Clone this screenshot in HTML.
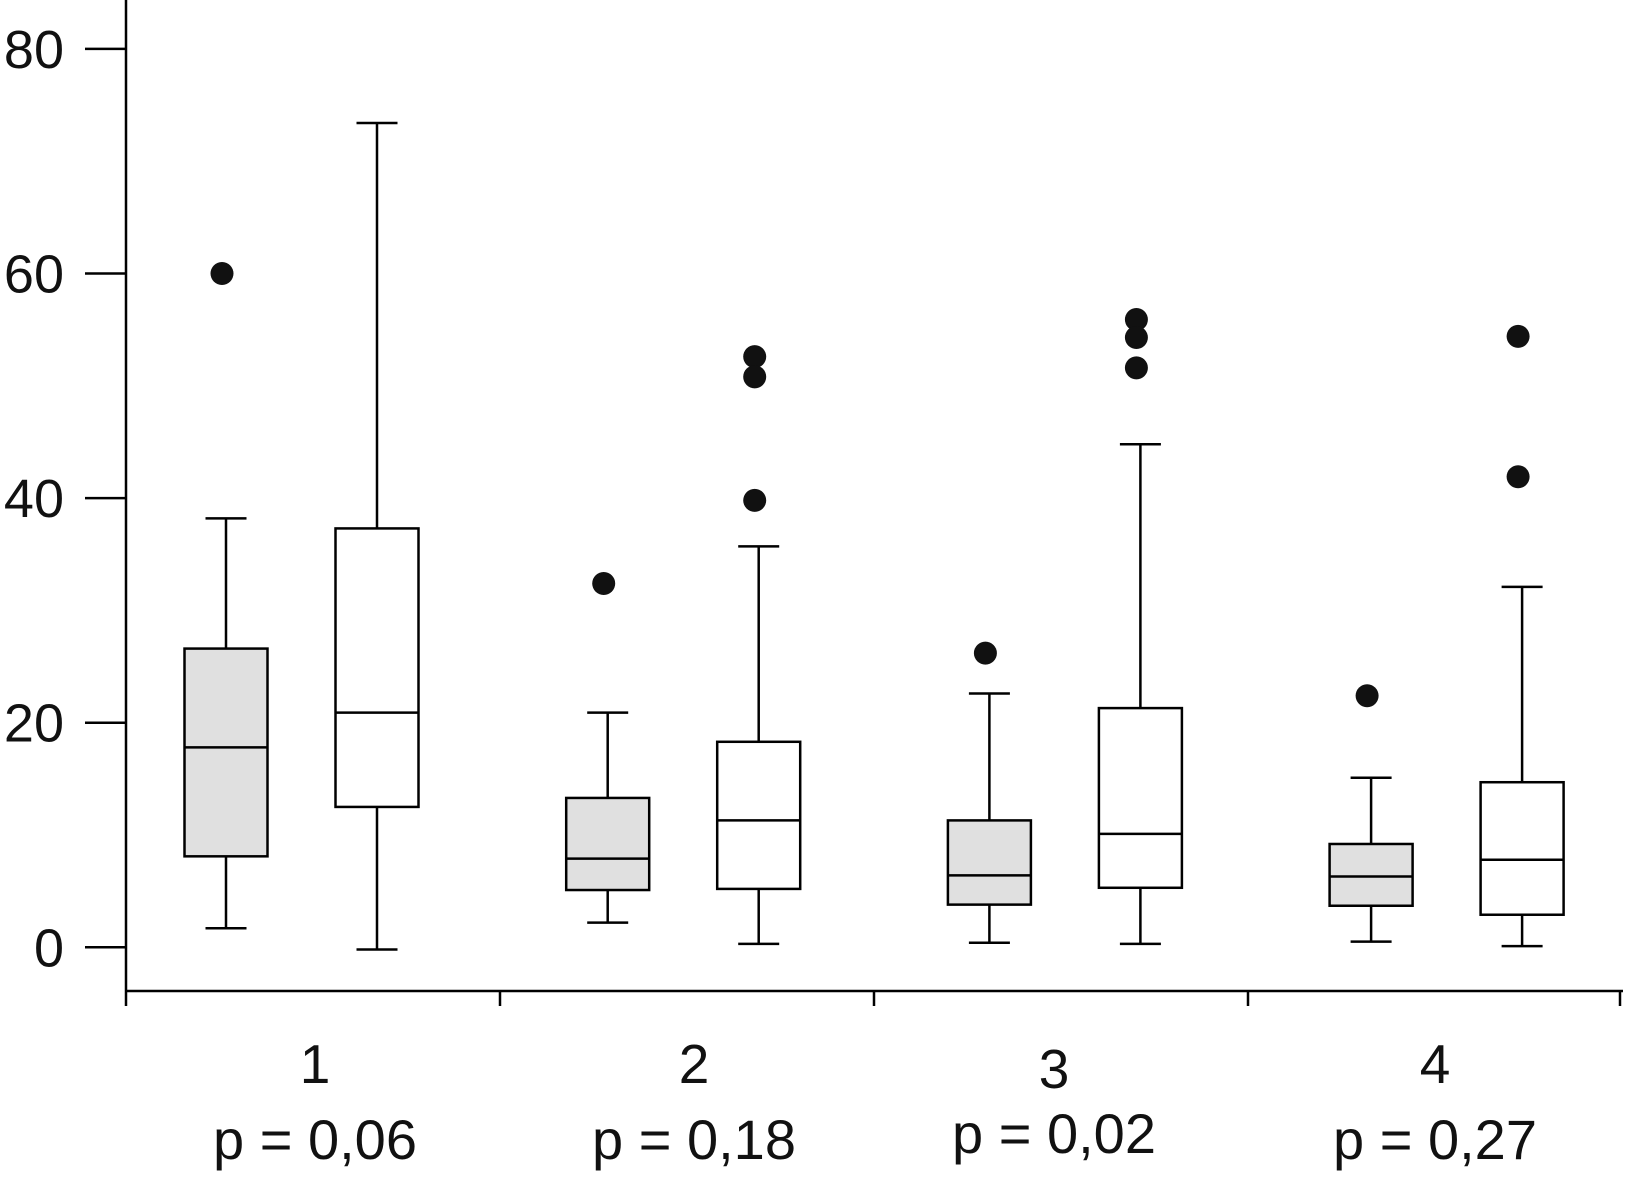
<!DOCTYPE html>
<html><head><meta charset="utf-8"><style>
html,body{margin:0;padding:0;background:#fff;}
svg{display:block;font-family:"Liberation Sans",sans-serif;}
</style></head><body>
<svg id="chart" width="1625" height="1178" viewBox="0 0 1625 1178" xmlns="http://www.w3.org/2000/svg"></svg>
<script>
const groupLabels = ["1","2","3","4"];
const pLabels = ["p = 0,06","p = 0,18","p = 0,02","p = 0,27"];
const yTicks = [0,20,40,60,80];
const boxLow    = [1.7, -0.2, 2.2, 0.3, 0.4, 0.3, 0.5, 0.1];
const boxQ1     = [8.1, 12.5, 5.1, 5.2, 3.8, 5.3, 3.7, 2.9];
const boxMedian = [17.8, 20.9, 7.9, 11.3, 6.4, 10.1, 6.3, 7.8];
const boxQ3     = [26.6, 37.3, 13.3, 18.3, 11.3, 21.3, 9.2, 14.7];
const boxHigh   = [38.2, 73.4, 20.9, 35.7, 22.6, 44.8, 15.1, 32.1];
const boxOutliers = [[60],[],[32.4],[52.6,50.8,39.8],[26.2],[55.9,54.3,51.6],[22.4],[54.4,41.9]];
const boxGroup = [0,0,1,1,2,2,3,3];
const boxFilled = [true,false,true,false,true,false,true,false];

const svg = document.getElementById('chart');
const NS = 'http://www.w3.org/2000/svg';
const y0px = 947.3, pxPerUnit = 224.6/20;
function yScale(v){ return y0px - v*pxPerUnit; }
const groupLeft = 126, groupWidth = 374;
function xBox(i){ const g = boxGroup[i]; const sub = boxFilled[i] ? 0 : 1; return 226 + g*381.7 + sub*151; }
function el(tag, attrs){ const e = document.createElementNS(NS, tag); for (const k in attrs) e.setAttribute(k, attrs[k]); svg.appendChild(e); return e; }

let a = el('line',{x1:126,y1:0,x2:126,y2:991,stroke:'#000','stroke-width':2.5});
 
a = el('line',{x1:126,y1:991,x2:1623,y2:991,stroke:'#000','stroke-width':2.5});
 
for (let g=0; g<=4; g++){
  const x = groupLeft + g*groupWidth - (g===4?2:0);
  const t = el('line',{x1:x,y1:991,x2:x,y2:1006,stroke:'#000','stroke-width':2.5});
   
}
yTicks.forEach(v=>{
  const y = yScale(v);
  const t = el('line',{x1:85,y1:y,x2:126,y2:y,stroke:'#000','stroke-width':2.5});
   
  const l = el('text',{x:64,y:y+19,'text-anchor':'end','font-size':54,fill:'#111'});
  l.textContent = v;
   
});
const labelCx = [315, 694, 1054, 1435];
groupLabels.forEach((s,g)=>{
  const cx = labelCx[g];
  const t = el('text',{x:cx, y: g===2?1088:1083,'text-anchor':'middle','font-size':55,fill:'#111'});
  t.textContent = s;
   
  const p = el('text',{x:cx, y: g===2?1153:1159,'text-anchor':'middle','font-size':56,fill:'#111'});
  p.textContent = pLabels[g];
   
});
for (let i=0;i<boxLow.length;i++){
  const cx = xBox(i), hw = 41.5, cw = 20.5;
  const st = {stroke:'#000','stroke-width':2.5};
  let e = el('line',Object.assign({x1:cx,y1:yScale(boxHigh[i]),x2:cx,y2:yScale(boxQ3[i])},st));
   
  e = el('line',Object.assign({x1:cx-cw,y1:yScale(boxHigh[i]),x2:cx+cw,y2:yScale(boxHigh[i])},st));
   
  e = el('line',Object.assign({x1:cx,y1:yScale(boxQ1[i]),x2:cx,y2:yScale(boxLow[i])},st));
   
  e = el('line',Object.assign({x1:cx-cw,y1:yScale(boxLow[i]),x2:cx+cw,y2:yScale(boxLow[i])},st));
   
  e = el('rect',Object.assign({x:cx-hw,y:yScale(boxQ3[i]),width:hw*2,height:yScale(boxQ1[i])-yScale(boxQ3[i]),fill:boxFilled[i]?'#e0e0e0':'#fff'},st));
   
  e = el('line',Object.assign({x1:cx-hw,y1:yScale(boxMedian[i]),x2:cx+hw,y2:yScale(boxMedian[i])},st));
   
  boxOutliers[i].forEach(v=>{
    const o = el('circle',{cx:cx-4,cy:yScale(v),r:11.5,fill:'#111'});
     
  });
}
</script>
</body></html>
